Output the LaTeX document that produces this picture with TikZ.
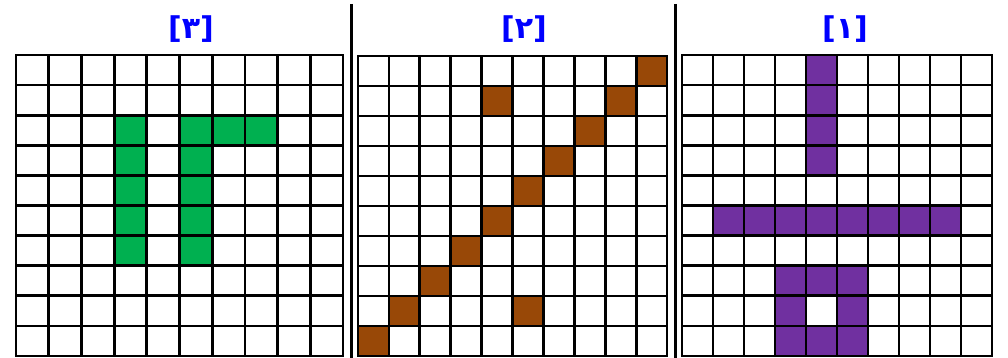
\documentclass[tikz,border=0pt]{standalone}
\usepackage{fontspec}
\newfontfamily\arabicfont[Script=Arabic]{DejaVu Sans}
\definecolor{cellgreen}{HTML}{00B050}
\definecolor{cellbrown}{HTML}{984807}
\definecolor{cellpurple}{HTML}{7030A0}
\definecolor{labelblue}{HTML}{0000FF}

\begin{document}
\begin{tikzpicture}[x=1pt, y=-1pt,
    gridline/.style={line width=2.8pt, line cap=rect},
    sepline/.style={line width=3pt},
    gridlabel/.style={font=\arabicfont\bfseries\fontsize{30}{34}\selectfont, text=labelblue}]
  \useasboundingbox (0,0) rectangle (1008,358);

  % labels
  \node[gridlabel] (lab3) at (191,29) {[۳]};
  \node[gridlabel] (lab2) at (524,29) {[۲]};
  \node[gridlabel] (lab1) at (845,29) {[۱]};

  % separators
  \draw[sepline] (351,4) -- (351,358);
  \draw[sepline] (675,4) -- (675,358);

  % left grid
  \begin{scope}[shift={(16,55)}]
    \foreach \r/\c in {2/3,2/5,2/6,2/7,3/3,3/5,4/3,4/5,5/3,5/5,6/3,6/5}
      \fill[cellgreen] ({\c*32.7},{\r*30.1}) rectangle ++(32.7,30.1);
    \foreach \i in {0,...,10} {
      \draw[gridline] ({\i*32.7},0) -- ({\i*32.7},301);
      \draw[gridline] (0,{\i*30.1}) -- (327,{\i*30.1});
    }
  \end{scope}

  % middle grid
  \begin{scope}[shift={(358,56)}]
    \foreach \r/\c in {0/9,1/4,1/8,2/7,3/6,4/5,5/4,6/3,7/2,8/1,8/5,9/0}
      \fill[cellbrown] ({\c*30.9},{\r*30}) rectangle ++(30.9,30);
    \foreach \i in {0,...,10} {
      \draw[gridline] ({\i*30.9},0) -- ({\i*30.9},300);
      \draw[gridline] (0,{\i*30}) -- (309,{\i*30});
    }
  \end{scope}

  % right grid
  \begin{scope}[shift={(682,55)}]
    \foreach \r/\c in {0/4,1/4,2/4,3/4,5/1,5/2,5/3,5/4,5/5,5/6,5/7,5/8,7/3,7/4,7/5,8/3,8/5,9/3,9/4,9/5}
      \fill[cellpurple] ({\c*31},{\r*30.1}) rectangle ++(31,30.1);
    \foreach \i in {0,...,10} {
      \draw[gridline] ({\i*31},0) -- ({\i*31},301);
      \draw[gridline] (0,{\i*30.1}) -- (310,{\i*30.1});
    }
  \end{scope}
\end{tikzpicture}
\end{document}
